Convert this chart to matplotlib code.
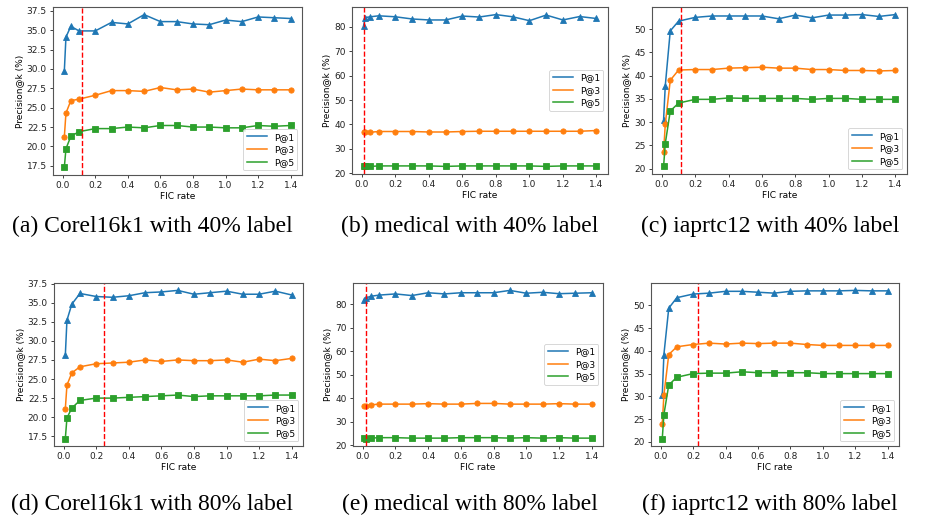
import matplotlib
matplotlib.use("Agg")
import matplotlib.pyplot as plt
from matplotlib.lines import Line2D

fic_rate = [0.01, 0.02, 0.05, 0.1, 0.2, 0.3, 0.4, 0.5, 0.6, 0.7, 0.8, 0.9, 1.0, 1.1, 1.2, 1.3, 1.4]

# (a) Corel16k1 40%
a_p1 = [29.7, 34.1, 35.5, 34.9, 34.9, 36.0, 35.8, 37.0, 36.1, 36.1, 35.8, 35.7, 36.3, 36.1, 36.7, 36.6, 36.5]
a_p3 = [21.2, 24.3, 25.9, 26.1, 26.6, 27.2, 27.2, 27.1, 27.6, 27.3, 27.4, 27.0, 27.2, 27.4, 27.3, 27.3, 27.3]
a_p5 = [17.3, 19.7, 21.3, 21.9, 22.3, 22.3, 22.5, 22.4, 22.7, 22.7, 22.5, 22.5, 22.4, 22.4, 22.7, 22.6, 22.7]
# (b) medical 40%
b_p1 = [80.5, 83.8, 84.1, 84.5, 84.1, 83.2, 82.8, 82.8, 84.4, 84.0, 85.0, 84.1, 82.5, 84.8, 82.8, 84.2, 83.4]
b_p3 = [36.8, 37.0, 36.8, 37.1, 37.1, 37.1, 36.9, 36.9, 37.1, 37.2, 37.2, 37.2, 37.2, 37.2, 37.2, 37.2, 37.5]
b_p5 = [22.8, 23.0, 22.8, 23.0, 23.0, 23.0, 23.0, 22.8, 23.0, 23.0, 23.0, 23.0, 23.0, 22.8, 23.0, 23.0, 23.0]
# (c) iaprtc12 40%
c_p1 = [30.5, 37.8, 49.6, 51.7, 52.5, 52.8, 52.8, 52.8, 52.8, 52.2, 53.0, 52.4, 53.0, 53.0, 53.1, 52.7, 53.1]
c_p3 = [23.5, 29.5, 39.0, 41.2, 41.3, 41.3, 41.6, 41.7, 41.8, 41.6, 41.6, 41.3, 41.3, 41.1, 41.1, 41.0, 41.1]
c_p5 = [20.5, 25.4, 32.4, 34.1, 34.9, 34.9, 35.2, 35.1, 35.1, 35.1, 35.1, 34.9, 35.1, 35.1, 34.9, 34.9, 34.9]
# (d) Corel16k1 80%
d_p1 = [28.1, 32.7, 34.8, 36.2, 35.8, 35.7, 35.9, 36.3, 36.4, 36.6, 36.1, 36.3, 36.5, 36.1, 36.1, 36.5, 36.0]
d_p3 = [21.1, 24.2, 25.8, 26.6, 27.0, 27.1, 27.2, 27.5, 27.3, 27.5, 27.4, 27.4, 27.5, 27.2, 27.6, 27.4, 27.7]
d_p5 = [17.2, 19.9, 21.2, 22.2, 22.5, 22.5, 22.6, 22.7, 22.8, 22.9, 22.7, 22.8, 22.8, 22.8, 22.8, 22.9, 22.9]
# (e) medical 80%
e_p1 = [82.0, 82.8, 83.5, 84.0, 84.5, 83.8, 85.0, 84.5, 85.0, 85.0, 85.0, 86.0, 84.8, 85.2, 84.6, 84.8, 85.0]
e_p3 = [36.8, 36.6, 37.2, 37.5, 37.5, 37.5, 37.7, 37.5, 37.5, 37.8, 37.8, 37.5, 37.5, 37.5, 37.7, 37.5, 37.5]
e_p5 = [23.0, 22.8, 23.0, 23.2, 23.2, 23.0, 23.0, 23.0, 23.2, 23.2, 23.2, 23.0, 23.2, 23.0, 23.2, 23.0, 23.0]
# (f) iaprtc12 80%
f_p1 = [30.3, 39.2, 49.4, 51.7, 52.5, 52.7, 53.1, 53.1, 52.9, 52.7, 53.1, 53.2, 53.2, 53.2, 53.3, 53.2, 53.2]
f_p3 = [24.0, 30.3, 39.2, 40.9, 41.4, 41.7, 41.5, 41.7, 41.6, 41.7, 41.7, 41.4, 41.2, 41.2, 41.2, 41.2, 41.2]
f_p5 = [20.7, 26.0, 32.5, 34.2, 35.0, 35.1, 35.1, 35.4, 35.2, 35.2, 35.2, 35.2, 35.0, 35.0, 35.0, 35.0, 35.0]

vlines = [0.12, 0.015, 0.115, 0.245, 0.02, 0.23]
captions = ["(a) Corel16k1 with 40% label", "(b) medical with 40% label", "(c) iaprtc12 with 40% label",
            "(d) Corel16k1 with 80% label", "(e) medical with 80% label", "(f) iaprtc12 with 80% label"]
series_labels = ["P@1", "P@3", "P@5"]
legend_locs = ["lower right", "center right", "lower right", "lower right", "center right", "lower right"]
data = [(a_p1, a_p3, a_p5), (b_p1, b_p3, b_p5), (c_p1, c_p3, c_p5),
        (d_p1, d_p3, d_p5), (e_p1, e_p3, e_p5), (f_p1, f_p3, f_p5)]

W, H = 934, 522
# axes boxes in pixels: left, right, top, bottom
boxes = [(53, 302, 7, 175), (352, 608, 7, 174), (652, 907, 7, 174),
         (54, 303, 283, 446), (353, 603, 283, 446), (651, 899, 283, 446)]
cap_pos = [(152, 226), (470, 226), (770, 226), (152, 504), (470, 504), (770, 504)]

colors = ["#1f77b4", "#ff7f0e", "#2ca02c"]
markers = ["^", "o", "s"]

fig = plt.figure(figsize=(W / 100, H / 100), dpi=100)
for i in range(6):
    l, r, t, b = boxes[i]
    ax = fig.add_axes([l / W, 1 - b / H, (r - l) / W, (b - t) / H])
    handles = []
    for j in range(3):
        ax.plot(fic_rate, data[i][j], color=colors[j], lw=1.1, marker=markers[j],
                markersize=3.8, markeredgewidth=0.6)
        handles.append(Line2D([], [], color=colors[j], lw=1.1))
    ax.axvline(vlines[i], color="red", ls="--", lw=1.0)
    ax.set_xticks([0.0, 0.2, 0.4, 0.6, 0.8, 1.0, 1.2, 1.4])
    ax.tick_params(labelsize=6.5, length=2.5, width=0.6, pad=2, colors="#222222")
    for s in ax.spines.values():
        s.set_linewidth(0.8)
        s.set_color("#555555")
    ax.set_xlabel("FIC rate", fontsize=6.5, labelpad=1.5)
    ax.set_ylabel("Precision@k (%)", fontsize=6.5, labelpad=2)
    leg = ax.legend(handles, series_labels, loc=legend_locs[i], fontsize=6.5,
                    handlelength=2.2, borderpad=0.4, labelspacing=0.4, framealpha=0.9)
    leg.get_frame().set_linewidth(0.6)
    cx, cy = cap_pos[i]
    fig.text(cx / W, 1 - cy / H, captions[i], ha="center", va="center",
             fontsize=17, family="Liberation Serif")

fig.savefig("out.png", dpi=100)
